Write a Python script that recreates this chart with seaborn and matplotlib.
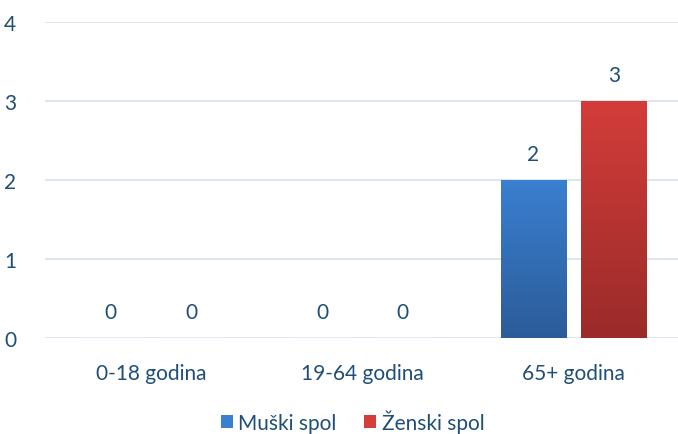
import numpy as np
import pandas as pd
import matplotlib
matplotlib.use("Agg")
import matplotlib.pyplot as plt
from matplotlib.colors import LinearSegmentedColormap
from matplotlib.patches import Patch
import seaborn as sns

# podaci
categories = ["0-18 godina", "19-64 godina", "65+ godina"]
series = ["Muški spol", "Ženski spol"]
male = [0, 0, 2]
female = [0, 0, 3]

df = pd.DataFrame({
    "kategorija": categories * 2,
    "spol": [series[0]] * 3 + [series[1]] * 3,
    "broj": male + female,
})

text_col = "#1F4E79"
grad = {
    series[0]: ("#2B5C99", "#3B7FD0"),   # dno, vrh
    series[1]: ("#9A2B2A", "#D33D3A"),
}

sns.set_style("white")
plt.rcParams["font.family"] = ["Lato", "DejaVu Sans"]

fig = plt.figure(figsize=(6.78, 4.35), dpi=100)
ax = fig.add_axes([0.067, 0.2207, 0.935, 0.7264])

sns.barplot(data=df, x="kategorija", y="broj", hue="spol", order=categories,
            hue_order=series, width=0.76, gap=0.18, palette=[grad[s][1] for s in series],
            legend=False, ax=ax)

ax.set_xlim(-0.5, 2.5)
ax.set_ylim(0, 4)
ax.set_yticks(range(5))
ax.grid(axis="y", color="#D6E2F1", linewidth=1.2)
ax.set_axisbelow(True)
for s in ax.spines.values():
    s.set_visible(False)
ax.set_xlabel("")
ax.set_ylabel("")
ax.tick_params(axis="both", length=0, labelsize=15, labelcolor=text_col)
ax.tick_params(axis="x", pad=18)
ax.tick_params(axis="y", pad=21)

# gradijent na stupcima + oznake vrijednosti
for i, cont in enumerate(ax.containers):
    s = series[i]
    cmap = LinearSegmentedColormap.from_list(s, list(grad[s]))
    for bar, val in zip(cont.patches, cont.datavalues):
        x0, w, h = bar.get_x(), bar.get_width(), bar.get_height()
        if h > 0:
            bar.set_alpha(0)
            img = np.linspace(0, 1, 256).reshape(-1, 1)
            ax.imshow(img, cmap=cmap, origin="lower", aspect="auto",
                      extent=(x0, x0 + w, 0, h), zorder=2)
        ax.annotate(f"{val:g}", (x0 + w / 2, h), xytext=(0, 19),
                    textcoords="offset points", ha="center", va="center",
                    fontsize=15, color=text_col)

ax.set_xlim(-0.5, 2.5)
ax.set_ylim(0, 4)

handles = [Patch(facecolor=grad[s][1], edgecolor="none") for s in series]
fig.legend(handles, series, loc="center", bbox_to_anchor=(0.52, 0.03), ncol=2,
           frameon=False, fontsize=15, labelcolor=text_col, handlelength=0.6,
           handleheight=0.6, handletextpad=0.25, columnspacing=1.3)

fig.savefig("out.png", dpi=100)
